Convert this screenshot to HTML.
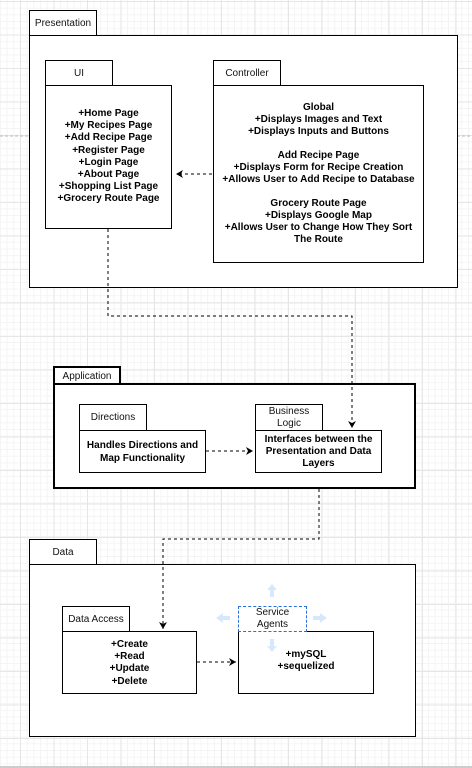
<!DOCTYPE html>
<html><head><style>
body{margin:0;width:472px;height:768px;overflow:hidden;background:#fff;
background-image:linear-gradient(#e6e6e6 1px,transparent 1px),linear-gradient(90deg,#e6e6e6 1px,transparent 1px),linear-gradient(#f4f4f4 1px,transparent 1px),linear-gradient(90deg,#f4f4f4 1px,transparent 1px);
background-size:33.5px 33.5px,33.5px 33.5px,6.7px 6.7px,6.7px 6.7px;background-position:20px 1px,20px 1px,20px 1px,20px 1px;
font-family:"Liberation Sans",sans-serif;position:relative}
.b{position:absolute;background:#fff;border:1px solid #000;box-sizing:border-box}
.t{font-size:10px;color:#111;display:flex;align-items:center;justify-content:center;text-align:center;line-height:13px}
.c{font-size:10px;font-weight:bold;text-align:center;line-height:12.2px;color:#000}
</style></head><body>
<div style="position:absolute;left:0;top:766px;width:472px;height:2px;background:#ccc"></div>
<svg style="position:absolute;left:0;top:0" width="472" height="768">
<line x1="0" y1="136" x2="28" y2="136" stroke="#bbb" stroke-dasharray="3,2"/>
<line x1="457" y1="136" x2="472" y2="136" stroke="#bbb" stroke-dasharray="3,2"/>
</svg>
<!-- Presentation -->
<div class="b t" style="left:29px;top:10px;width:68px;height:26px">Presentation</div>
<div class="b" style="left:29px;top:35px;width:429px;height:253px"></div>
<div class="b t" style="left:45px;top:60px;width:68px;height:26px">UI</div>
<div class="b c" style="left:45px;top:85px;width:127px;height:144px;padding-top:22px">+Home Page<br>+My Recipes Page<br>+Add Recipe Page<br>+Register Page<br>+Login Page<br>+About Page<br>+Shopping List Page<br>+Grocery Route Page</div>
<div class="b t" style="left:213px;top:60px;width:68px;height:26px">Controller</div>
<div class="b c" style="left:213px;top:85px;width:211px;height:178px;padding-top:16px;line-height:12px">Global<br>+Displays Images and Text<br>+Displays Inputs and Buttons<br><br>Add Recipe Page<br>+Displays Form for Recipe Creation<br>+Allows User to Add Recipe to Database<br><br>Grocery Route Page<br>+Displays Google Map<br>+Allows User to Change How They Sort<br>The Route</div>
<!-- Application -->
<div class="b t" style="left:53px;top:366px;width:68px;height:18px;border-width:2px 2px 0 2px">Application</div>
<div class="b" style="left:53px;top:383px;width:363px;height:106px;border-width:2px"></div>
<div class="b t" style="left:79px;top:404px;width:68px;height:27px">Directions</div>
<div class="b c" style="left:79px;top:430px;width:127px;height:43px;padding-top:8px;line-height:13px">Handles Directions and<br>Map Functionality</div>
<div class="b t" style="left:255px;top:404px;width:68px;height:27px;line-height:12px">Business<br>Logic</div>
<div class="b c" style="left:255px;top:430px;width:127px;height:43px;padding-top:3px;line-height:12px">Interfaces between the<br>Presentation and Data<br>Layers</div>
<!-- Data -->
<div class="b t" style="left:29px;top:539px;width:68px;height:26px">Data</div>
<div class="b" style="left:29px;top:564px;width:387px;height:173px"></div>
<div class="b t" style="left:62px;top:606px;width:68px;height:26px">Data Access</div>
<div class="b c" style="left:62px;top:631px;width:135px;height:63px;padding-top:7px">+Create<br>+Read<br>+Update<br>+Delete</div>
<div class="b" style="left:238px;top:631px;width:136px;height:63px"></div>
<div class="c" style="position:absolute;left:238px;top:649px;width:136px">+mySQL<br>+sequelized</div>
<div class="b t" style="left:238px;top:606px;width:69px;height:26px;border:1px dashed #2a6fd6;line-height:12px">Service<br>Agents</div>
<svg style="position:absolute;left:0;top:0" width="472" height="768">
<defs><marker id="a" markerWidth="8" markerHeight="8" refX="7" refY="4" orient="auto" markerUnits="userSpaceOnUse"><path d="M0,0 L7,4 L0,8 L2,4 Z" fill="#000"/></marker></defs>
<g stroke="#000" stroke-width="1" fill="none" stroke-dasharray="3,3">
<line x1="212" y1="174" x2="176" y2="174" marker-end="url(#a)"/>
<polyline points="108,229 108,316 352,316 352,428" marker-end="url(#a)"/>
<line x1="206" y1="451" x2="253" y2="451" marker-end="url(#a)"/>
<polyline points="319,489 319,539 163,539 163,629" marker-end="url(#a)"/>
<line x1="197" y1="662" x2="236" y2="662" marker-end="url(#a)"/>
</g>
<g fill="#d7e8fa">
<path d="M272,584 l5,6 h-3 v7 h-4 v-7 h-3z"/>
<path d="M272,652 l5,-6 h-3 v-7 h-4 v7 h-3z"/>
<path d="M216,618 l7,-5 v3 h7 v4 h-7 v3z"/>
<path d="M327,618 l-7,-5 v3 h-7 v4 h7 v3z"/>
</g>
</svg>
</body></html>
